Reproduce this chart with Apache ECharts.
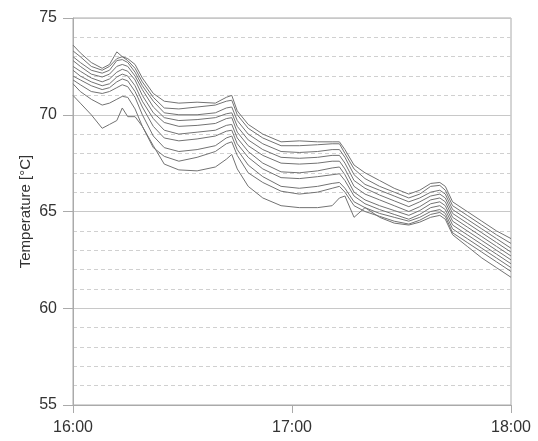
<!DOCTYPE html>
<html>
<head>
<meta charset="utf-8">
<script src="https://cdn.jsdelivr.net/npm/echarts@6/dist/echarts.min.js"></script>
<style>html,body{margin:0;padding:0;background:#fff}#c{width:538px;height:441px}</style>
</head>
<body>
<div id="c"></div>
<script>
// minutes after 16:00
var times = [0, 2, 5, 8, 10, 12, 13.5, 15, 17, 19, 22, 25, 29, 34, 39, 42, 43.5, 45, 48, 52, 57, 62, 67, 71, 73, 74.5, 77, 80, 84, 88, 92, 95, 98, 100.5, 102, 104, 108, 112, 116, 120];
var xTickLabels = ['16:00', '17:00', '18:00'];
var s1 = [73.6, 73.2, 72.7, 72.4, 72.6, 73.25, 73.0, 72.9, 72.6, 71.9, 71.1, 70.7, 70.6, 70.65, 70.6, 70.9, 71.0, 70.2, 69.5, 69.0, 68.6, 68.65, 68.6, 68.6, 68.6, 68.2, 67.4, 67.0, 66.6, 66.2, 65.9, 66.1, 66.45, 66.5, 66.3, 65.5, 65.0, 64.5, 64.0, 63.6];
var s2 = [73.3, 73.0, 72.5, 72.3, 72.5, 72.9, 73.0, 72.8, 72.4, 71.7, 70.9, 70.35, 70.3, 70.4, 70.5, 70.7, 70.75, 70.0, 69.3, 68.8, 68.4, 68.4, 68.45, 68.5, 68.5, 68.0, 67.2, 66.7, 66.3, 66.0, 65.7, 65.9, 66.3, 66.35, 66.1, 65.3, 64.8, 64.3, 63.8, 63.35];
var s3 = [73.0, 72.7, 72.3, 72.15, 72.3, 72.8, 72.85, 72.7, 72.2, 71.5, 70.7, 70.1, 70.0, 70.0, 70.1, 70.35, 70.4, 69.7, 69.0, 68.5, 68.1, 68.05, 68.1, 68.2, 68.2, 67.8, 66.9, 66.4, 66.1, 65.8, 65.5, 65.7, 66.0, 66.1, 65.9, 65.1, 64.6, 64.1, 63.6, 63.1];
var s4 = [72.8, 72.5, 72.1, 71.95, 72.1, 72.5, 72.6, 72.5, 72.0, 71.3, 70.4, 69.85, 69.7, 69.75, 69.85, 70.05, 70.1, 69.4, 68.7, 68.2, 67.8, 67.75, 67.8, 67.9, 67.9, 67.5, 66.6, 66.2, 65.85, 65.55, 65.25, 65.5, 65.8, 65.9, 65.7, 64.9, 64.4, 63.9, 63.4, 62.9];
var s5 = [72.5, 72.25, 71.9, 71.7, 71.85, 72.2, 72.35, 72.25, 71.8, 71.0, 70.1, 69.6, 69.4, 69.45, 69.55, 69.8, 69.85, 69.1, 68.4, 67.9, 67.5, 67.45, 67.5, 67.6, 67.6, 67.2, 66.3, 65.9, 65.6, 65.3, 65.0, 65.25, 65.6, 65.7, 65.5, 64.7, 64.2, 63.7, 63.2, 62.7];
var s6 = [72.3, 72.0, 71.7, 71.5, 71.6, 71.95, 72.1, 72.0, 71.5, 70.7, 69.8, 69.2, 69.0, 69.1, 69.2, 69.45, 69.5, 68.8, 68.1, 67.5, 67.05, 67.0, 67.1, 67.25, 67.3, 66.9, 66.0, 65.6, 65.3, 65.05, 64.8, 65.05, 65.4, 65.5, 65.3, 64.5, 64.0, 63.5, 63.0, 62.5];
var s7 = [72.0, 71.8, 71.5, 71.3, 71.4, 71.7, 71.85, 71.75, 71.2, 70.4, 69.4, 68.8, 68.65, 68.75, 68.9, 69.15, 69.2, 68.5, 67.8, 67.2, 66.75, 66.7, 66.8, 66.9, 66.95, 66.6, 65.8, 65.4, 65.1, 64.85, 64.6, 64.85, 65.2, 65.3, 65.1, 64.3, 63.8, 63.3, 62.8, 62.3];
var s8 = [71.8, 71.55, 71.2, 71.1, 71.2, 71.4, 71.55, 71.45, 70.9, 70.0, 68.9, 68.3, 68.1, 68.2, 68.4, 68.8, 68.9, 68.2, 67.4, 66.8, 66.3, 66.2, 66.3, 66.45, 66.5, 66.2, 65.5, 65.2, 64.9, 64.7, 64.5, 64.7, 65.0, 65.1, 64.9, 64.1, 63.6, 63.1, 62.6, 62.1];
var s9 = [71.6, 71.2, 70.8, 70.5, 70.6, 70.8, 70.95, 70.9, 70.3, 69.4, 68.3, 67.85, 67.6, 67.8, 68.1, 68.5, 68.6, 67.9, 67.0, 66.5, 66.05, 65.9, 66.0, 66.2, 66.3, 66.0, 65.3, 65.0, 64.75, 64.5, 64.35, 64.55, 64.85, 64.95, 64.75, 63.9, 63.4, 62.9, 62.4, 61.9];
var s10 = [71.0, 70.6, 70.0, 69.3, 69.5, 69.7, 70.35, 69.9, 69.9, 69.4, 68.4, 67.45, 67.15, 67.1, 67.3, 67.7, 67.95, 67.2, 66.3, 65.7, 65.3, 65.2, 65.2, 65.3, 65.7, 65.8, 64.7, 65.2, 64.7, 64.4, 64.3, 64.45, 64.7, 64.8, 64.6, 63.8, 63.2, 62.6, 62.1, 61.6];
var allSeries = [s1, s2, s3, s4, s5, s6, s7, s8, s9, s10];

var chart = echarts.init(document.getElementById('c'), null, {renderer: 'canvas'});
var font = 'Liberation Sans, Arial, sans-serif';
chart.setOption({
  animation: false,
  grid: {left: 73, right: 27, top: 18, bottom: 36, show: true, borderColor: '#aaa', borderWidth: 1},
  xAxis: {
    type: 'value', min: 0, max: 120, interval: 60,
    axisLine: {show: true, lineStyle: {color: '#aaa'}},
    axisTick: {show: true, length: 8, lineStyle: {color: '#aaa'}},
    splitLine: {show: false},
    axisLabel: {margin: 15, color: '#333', fontFamily: font, fontSize: 16,
      formatter: function (v) { return xTickLabels[Math.round(v / 60)]; }}
  },
  yAxis: {
    type: 'value', min: 55, max: 75, interval: 5,
    name: 'Temperature [°C]', nameLocation: 'middle', nameGap: 40, nameMoveOverlap: false,
    nameTextStyle: {color: '#333', fontFamily: font, fontSize: 15},
    axisLine: {show: true, lineStyle: {color: '#aaa'}},
    axisTick: {show: true, length: 10, lineStyle: {color: '#aaa'}},
    axisLabel: {margin: 16, color: '#333', fontFamily: font, fontSize: 16},
    splitLine: {show: true, lineStyle: {color: '#c8c8c8', width: 1}},
    minorTick: {show: false, splitNumber: 5},
    minorSplitLine: {show: true, lineStyle: {color: '#d0d0d0', type: [4, 3], width: 1}}
  },
  series: allSeries.map(function (vals) {
    return {
      type: 'line', showSymbol: false, symbol: 'none',
      lineStyle: {color: '#727272', width: 1},
      data: times.map(function (t, i) { return [t, vals[i]]; })
    };
  })
});
</script>
</body>
</html>
